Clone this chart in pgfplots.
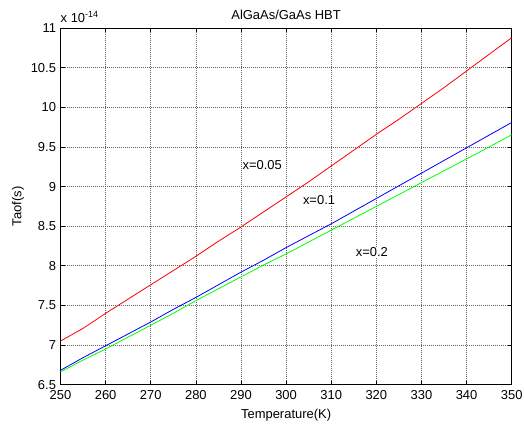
\documentclass[border=0pt]{standalone}
\usepackage{fontspec}
\setmainfont{Liberation Sans}
\usepackage{pgfplots}
\pgfplotsset{compat=1.18}
\begin{document}
\fontsize{13}{15}\selectfont
\begin{tikzpicture}
\begin{axis}[
  scale only axis, width=451.2bp, height=356.4bp,
  xmin=250, xmax=350, ymin=6.5, ymax=11,
  xtick={250,260,270,280,290,300,310,320,330,340,350},
  ytick={6.5,7,7.5,8,8.5,9,9.5,10,10.5,11},
  grid=major, grid style={dash pattern=on 1bp off 1bp, black!60, line width=0.7bp},
  tick align=inside, major tick length=4bp,
  axis line style={black, line width=1bp},
  tick style={black, line width=0.6bp},
  /pgf/number format/assume math mode=true,
  ticklabel style={font=\fontsize{13}{15}\selectfont},
  xticklabel style={yshift=-1.5bp},
  label style={font=\fontsize{13}{15}\selectfont},
  title style={font=\fontsize{13}{15}\selectfont, yshift=-2bp},
  xlabel={Temperature(K)}, ylabel={Taof(s)},
  ylabel style={yshift=-2bp},
  title={AlGaAs/GaAs HBT},
  clip=false,
]
\addplot[red, line width=0.8bp] coordinates {
(250,7.05) (255,7.21) (260,7.40) (265,7.58) (270,7.76) (275,7.94) (280,8.12) (285,8.31) (290,8.49) (295,8.68) (300,8.87) (305,9.06) (310,9.26) (315,9.46) (320,9.66) (325,9.85) (330,10.05) (335,10.25) (340,10.46) (345,10.67) (350,10.88)};
\addplot[blue, line width=0.8bp] coordinates {
(250,6.68) (255,6.84) (260,6.99) (265,7.14) (270,7.29) (275,7.45) (280,7.60) (285,7.76) (290,7.92) (295,8.07) (300,8.23) (305,8.38) (310,8.53) (315,8.69) (320,8.85) (325,9.01) (330,9.17) (335,9.33) (340,9.49) (345,9.65) (350,9.81)};
\addplot[green, line width=0.8bp] coordinates {
(250,6.66) (255,6.81) (260,6.95) (265,7.10) (270,7.25) (275,7.40) (280,7.56) (285,7.71) (290,7.86) (295,8.01) (300,8.15) (305,8.30) (310,8.45) (315,8.60) (320,8.75) (325,8.90) (330,9.05) (335,9.20) (340,9.35) (345,9.50) (350,9.655)};
\node[fill=white, inner sep=1bp] at (axis cs:294.7,9.27) {x=0.05};
\node[fill=white, inner sep=1bp] at (axis cs:307.3,8.83) {x=0.1};
\node[fill=white, inner sep=1bp] at (axis cs:319,8.17) {x=0.2};
\node[anchor=south west, inner sep=0pt] at ([yshift=5bp]rel axis cs:0,1) {x 10\raisebox{0.45em}{\fontsize{9}{10}\selectfont -14}};
\coordinate (sw) at (rel axis cs:0,0);
\coordinate (ne) at (rel axis cs:1,1);
\end{axis}
\pgfresetboundingbox
\path ([xshift=-60.5bp,yshift=-41.4bp]sw) rectangle ([xshift=12.3bp,yshift=28.2bp]ne);
\end{tikzpicture}
\end{document}
